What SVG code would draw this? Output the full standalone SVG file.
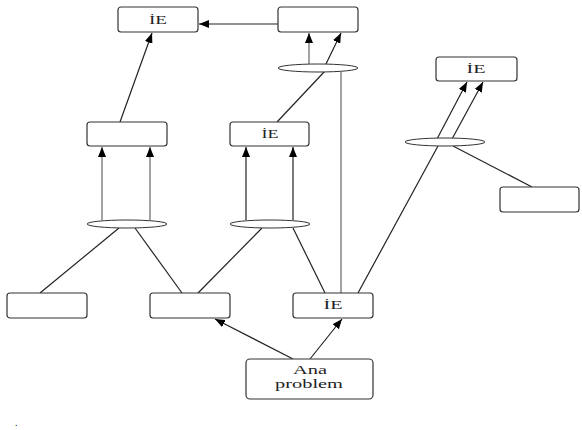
<svg xmlns="http://www.w3.org/2000/svg" width="582" height="430" viewBox="0 0 582 430">
<defs>
<marker id="ah" markerUnits="userSpaceOnUse" markerWidth="10" markerHeight="8" refX="10" refY="4" orient="auto">
<path d="M0,0 L10,4 L0,8 z" fill="#000"/>
</marker>
<style>
.box{fill:#fff;stroke:#333;stroke-width:1.2}
.ell{fill:#fff;stroke:#333;stroke-width:1}
.t{font-family:"Liberation Serif",serif;font-size:12px;fill:#222;text-anchor:middle}
.tb{font-family:"Liberation Serif",serif;font-size:13px;fill:#222;text-anchor:middle}
.c{stroke:#222;stroke-width:1.2;fill:none}
.g{stroke:#999;stroke-width:1.8;fill:none}
.a{marker-end:url(#ah)}
</style>
</defs>
<rect width="582" height="430" fill="#fff"/>
<g id="connectors">
<line class="c a" x1="278" y1="24" x2="199" y2="24"/>
<line class="c a" x1="120" y1="122" x2="152" y2="33"/>
<line class="g a" x1="309" y1="64" x2="309" y2="33"/>
<line class="c a" x1="325" y1="66" x2="341" y2="33"/>
<line class="c" x1="277" y1="122" x2="325" y2="71"/>
<line class="g" x1="341" y1="72" x2="341" y2="293"/>
<line class="g a" x1="102" y1="220" x2="102" y2="147"/>
<line class="g a" x1="150" y1="220" x2="150" y2="147"/>
<line class="c a" x1="246" y1="220" x2="246" y2="147"/>
<line class="c a" x1="293" y1="220" x2="293" y2="147"/>
<line class="c a" x1="437" y1="139" x2="467" y2="82"/>
<line class="c a" x1="452" y1="139" x2="483" y2="82"/>
<line class="c" x1="358" y1="293" x2="438" y2="146"/>
<line class="c" x1="453" y1="146" x2="532" y2="187"/>
<line class="c" x1="40" y1="293" x2="119" y2="228"/>
<line class="c" x1="135" y1="228" x2="182" y2="293"/>
<line class="c" x1="262" y1="228" x2="198" y2="293"/>
<line class="c" x1="293" y1="228" x2="325" y2="293"/>
<line class="c a" x1="293" y1="359" x2="215" y2="319"/>
<line class="c a" x1="310" y1="359" x2="342" y2="319"/>
</g>
<g id="ell-top"><ellipse class="ell" cx="318" cy="68" rx="40" ry="4"/></g>
<g id="ell-left"><ellipse class="ell" cx="127" cy="224" rx="40" ry="4"/></g>
<g id="ell-mid"><ellipse class="ell" cx="270" cy="224" rx="40" ry="4"/></g>
<g id="ell-right"><ellipse class="ell" cx="445" cy="142" rx="40" ry="4"/></g>
<g id="n-top-left"><rect class="box" x="118" y="7" width="80" height="25" rx="3"/><text class="t" x="158" y="24" textLength="18" lengthAdjust="spacingAndGlyphs">İE</text></g>
<g id="n-top-right"><rect class="box" x="278" y="7" width="80" height="25" rx="3"/></g>
<g id="n-mid-left"><rect class="box" x="87" y="122" width="80" height="24" rx="3"/></g>
<g id="n-mid-ie"><rect class="box" x="230" y="122" width="79" height="24" rx="3"/><text class="t" x="270" y="138" textLength="17" lengthAdjust="spacingAndGlyphs">İE</text></g>
<g id="n-right-ie"><rect class="box" x="436" y="57" width="81" height="24" rx="3"/><text class="t" x="476" y="73" textLength="19" lengthAdjust="spacingAndGlyphs">İE</text></g>
<g id="n-right-low"><rect class="box" x="500" y="187" width="79" height="25" rx="3"/></g>
<g id="n-bot-left"><rect class="box" x="7" y="293" width="80" height="25" rx="3"/></g>
<g id="n-bot-mid"><rect class="box" x="150" y="293" width="80" height="25" rx="3"/></g>
<g id="n-bot-ie"><rect class="box" x="293" y="293" width="80" height="25" rx="3"/><text class="t" x="333" y="309" textLength="19" lengthAdjust="spacingAndGlyphs">İE</text></g>
<g id="n-ana"><rect class="box" x="246" y="359" width="127" height="40" rx="4"/><text class="tb" x="310" y="374" textLength="34" lengthAdjust="spacingAndGlyphs">Ana</text><text class="tb" x="309" y="388" textLength="68" lengthAdjust="spacingAndGlyphs">problem</text></g>
<text x="15" y="426" style="font-family:'Liberation Serif',serif;font-size:10px;fill:#222">.</text>
</svg>
